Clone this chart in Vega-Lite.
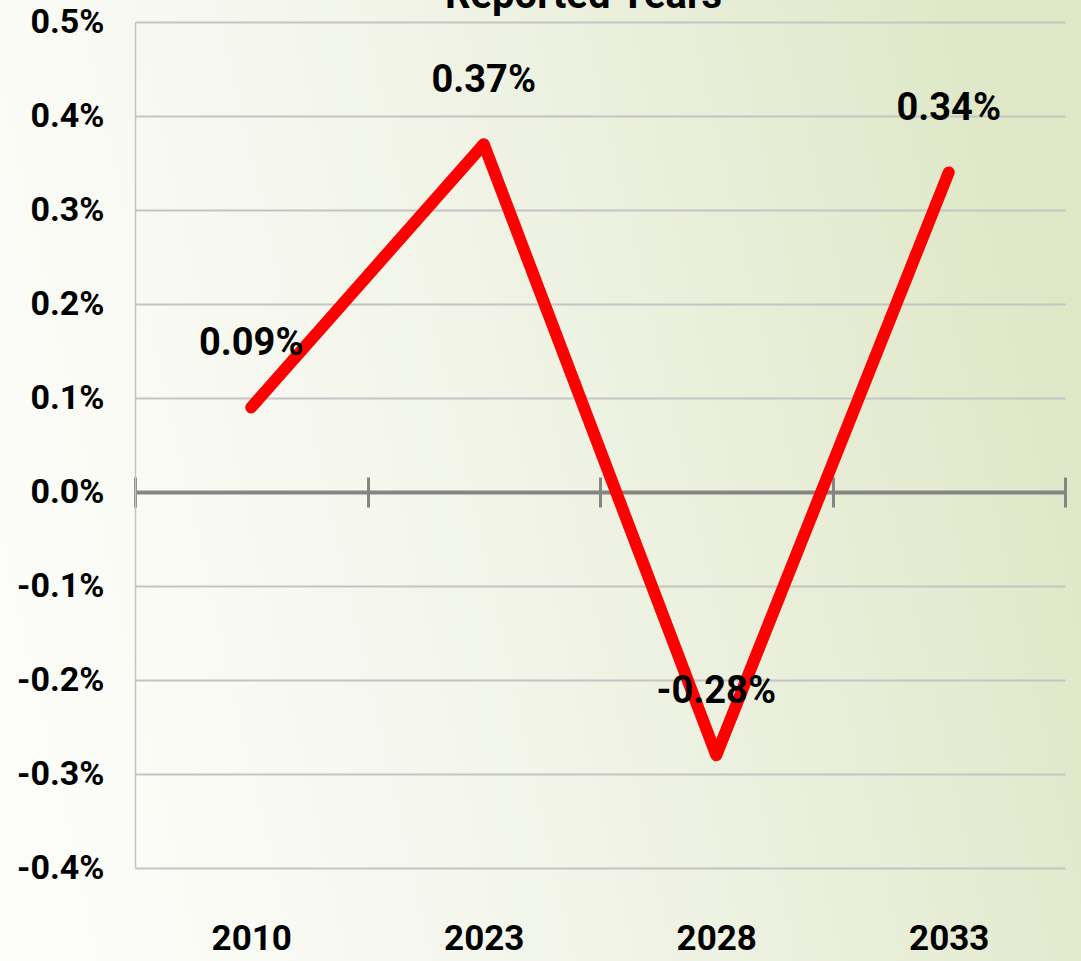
{
  "$schema": "https://vega.github.io/schema/vega-lite/v6.json",
  "width": 1081,
  "height": 961,
  "autosize": {"type": "none"},
  "padding": 0,
  "background": "#f6f8ef",
  "config": {
    "view": {
      "stroke": null,
      "fill": {
        "gradient": "linear",
        "x1": 0, "y1": 0.6, "x2": 1, "y2": 0.4,
        "stops": [
          {"offset": 0, "color": "#fcfdf9"},
          {"offset": 0.3, "color": "#f6f8ef"},
          {"offset": 0.6, "color": "#edf1e0"},
          {"offset": 1, "color": "#dee7c6"}
        ]
      }
    },
    "locale": {"number": {"decimal": ".", "thousands": ",", "grouping": [3], "currency": ["$", ""], "minus": "-"}},
    "font": "Roboto"
  },
  "title": {
    "text": "Reported Years",
    "font": "Roboto",
    "fontSize": 40,
    "fontWeight": "bold",
    "color": "#000000",
    "offset": -16,
    "dx": 43
  },
  "data": {
    "values": [
      {"year": "2010", "value": 0.0009},
      {"year": "2023", "value": 0.0037},
      {"year": "2028", "value": -0.0028},
      {"year": "2033", "value": 0.0034}
    ]
  },
  "layer": [
    {
      "mark": {"type": "line", "color": "#ff0000", "strokeWidth": 12, "strokeCap": "round", "strokeJoin": "round"},
      "encoding": {
        "x": {
          "field": "year", "type": "ordinal", "sort": null,
          "scale": {"type": "band", "range": [135, 1065], "paddingInner": 0, "paddingOuter": 0},
          "axis": {
            "orient": "top", "offset": -492, "title": null,
            "domain": true, "domainColor": "#858585", "domainWidth": 4,
            "ticks": true, "tickBand": "extent", "tickSize": 15, "tickWidth": 3, "tickColor": "#858585",
            "labels": false, "grid": false
          }
        },
        "y": {
          "field": "value", "type": "quantitative",
          "scale": {"domain": [-0.004, 0.005], "range": [868, 22], "nice": false, "zero": false},
          "axis": {
            "orient": "left", "offset": -135, "title": null,
            "values": [-0.004, -0.003, -0.002, -0.001, 0, 0.001, 0.002, 0.003, 0.004, 0.005],
            "format": ".1%",
            "labelFont": "Roboto", "labelFontSize": 34, "labelFontWeight": "bold", "labelColor": "#000000",
            "labelPadding": 31, "labelOverlap": false, "labelBound": false, "labelFlush": false,
            "ticks": false,
            "domain": true, "domainColor": "#c4c4c4", "domainWidth": 1.5,
            "grid": true, "gridColor": "#c4c4c4", "gridWidth": 2
          }
        }
      }
    },
    {
      "mark": {"type": "text", "font": "Roboto", "fontSize": 38, "fontWeight": "bold", "color": "#000000", "align": "center", "baseline": "middle", "dy": -63},
      "encoding": {
        "x": {
          "field": "year", "type": "ordinal", "sort": null,
          "scale": {"type": "band", "range": [135, 1065], "paddingInner": 0, "paddingOuter": 0},
          "axis": {
            "orient": "bottom", "offset": -469, "title": null,
            "domain": false,
            "ticks": true, "tickBand": "extent", "tickSize": 15, "tickWidth": 3, "tickColor": "#858585",
            "labelPadding": 414, "labelAngle": 0,
            "labelFont": "Roboto", "labelFontSize": 35, "labelFontWeight": "bold", "labelColor": "#000000",
            "grid": false
          }
        },
        "y": {
          "field": "value", "type": "quantitative",
          "scale": {"domain": [-0.004, 0.005], "range": [868, 22], "nice": false, "zero": false},
          "axis": null
        },
        "text": {"field": "value", "type": "quantitative", "format": ".2%"}
      }
    }
  ],
  "resolve": {"axis": {"x": "independent", "y": "independent"}}
}
